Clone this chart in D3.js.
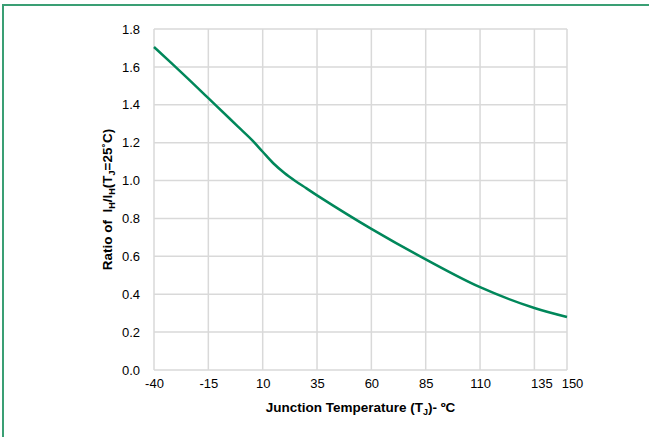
<!DOCTYPE html>
<html>
<head>
<meta charset="utf-8">
<script src="https://cdn.jsdelivr.net/npm/d3@7"></script>
<style>
  html, body { margin: 0; padding: 0; background: #fff; }
  svg text { font-family: "Liberation Sans", Arial, sans-serif; fill: #000; }
</style>
</head>
<body>
<svg id="chart" width="649" height="437"></svg>
<script>
// Junction temperature (°C) and holding-current ratio I_H / I_H(25°C)
const temps  = [-40, -25, -15, -5, 0, 5, 10, 15, 20, 25, 30, 35, 60, 85, 110, 135, 150];
const ratios = [1.705, 1.545, 1.435, 1.325, 1.27, 1.215, 1.152, 1.09, 1.04, 0.998, 0.96, 0.922, 0.745, 0.584, 0.437, 0.327, 0.28];
const xTicks = [-40, -15, 10, 35, 60, 85, 110, 135, 150];
const yTicks = [0.0, 0.2, 0.4, 0.6, 0.8, 1.0, 1.2, 1.4, 1.6, 1.8];

const svg = d3.select("#chart");

// outer frame (top and left edges visible)
svg.append("rect")
  .attr("x", 3).attr("y", 5)
  .attr("width", 700).attr("height", 500)
  .attr("fill", "none")
  .attr("stroke", "#3a9f74")
  .attr("stroke-width", 2);

const margin = { left: 154, right: 567, top: 29, bottom: 370 };
const x = d3.scaleLinear().domain([-40, 150]).range([margin.left, margin.right]);
const y = d3.scaleLinear().domain([0, 1.8]).range([margin.bottom, margin.top]);

// gridlines
const grid = svg.append("g").attr("stroke", "#d9d9d9").attr("stroke-width", 1.5);
grid.selectAll("line.v").data(xTicks).join("line")
  .attr("x1", d => x(d)).attr("x2", d => x(d))
  .attr("y1", y(0)).attr("y2", y(1.8));
grid.selectAll("line.h").data(yTicks).join("line")
  .attr("x1", x(-40)).attr("x2", x(150))
  .attr("y1", d => y(d)).attr("y2", d => y(d));

// x axis tick labels (the two last labels are nudged right so they don't collide)
const xLabelShift = { 135: 7, 150: 5 };
const xAxis = d3.axisBottom(x).tickValues(xTicks).tickSize(0).tickPadding(9).tickFormat(d => String(d));
const gx = svg.append("g").attr("transform", `translate(0,${y(0)})`).call(xAxis);
gx.select(".domain").remove();
gx.selectAll("text").style("font-size", "13px").attr("fill", "#000")
  .attr("dx", d => xLabelShift[d] || 0);

// y axis tick labels
const yAxis = d3.axisLeft(y).tickValues(yTicks).tickSize(0).tickPadding(14).tickFormat(d3.format(".1f"));
const gy = svg.append("g").attr("transform", `translate(${x(-40)},0)`).call(yAxis);
gy.select(".domain").remove();
gy.selectAll("text").style("font-size", "13px").attr("fill", "#000");

// curve
const pts = temps.map((t, i) => [t, ratios[i]]);
svg.append("path")
  .datum(pts)
  .attr("fill", "none")
  .attr("stroke", "#00875a")
  .attr("stroke-width", 2.5)
  .attr("d", d3.line().x(d => x(d[0])).y(d => y(d[1])).curve(d3.curveCatmullRom.alpha(0.5)));

// x axis title
const xt = svg.append("text")
  .attr("x", (x(-40) + x(150)) / 2)
  .attr("y", 412)
  .attr("text-anchor", "middle")
  .style("font-size", "13.5px")
  .style("font-weight", "bold");
xt.append("tspan").text("Junction Temperature (T");
xt.append("tspan").attr("dy", 3).style("font-size", "9px").text("J");
xt.append("tspan").attr("dy", -3).text(")- ºC");

// y axis title
const yt = svg.append("text")
  .attr("transform", `translate(112,${(y(0) + y(1.8)) / 2}) rotate(-90)`)
  .attr("text-anchor", "middle")
  .style("font-size", "13.5px")
  .style("font-weight", "bold")
  .attr("xml:space", "preserve");
yt.append("tspan").text("Ratio of  I");
yt.append("tspan").attr("dy", 3).style("font-size", "9px").text("H");
yt.append("tspan").attr("dy", -3).text("/I");
yt.append("tspan").attr("dy", 3).style("font-size", "9px").text("H");
yt.append("tspan").attr("dy", -3).text("(T");
yt.append("tspan").attr("dy", 3).style("font-size", "9px").text("J");
yt.append("tspan").attr("dy", -3).text("=25˚C)");
</script>
</body>
</html>
